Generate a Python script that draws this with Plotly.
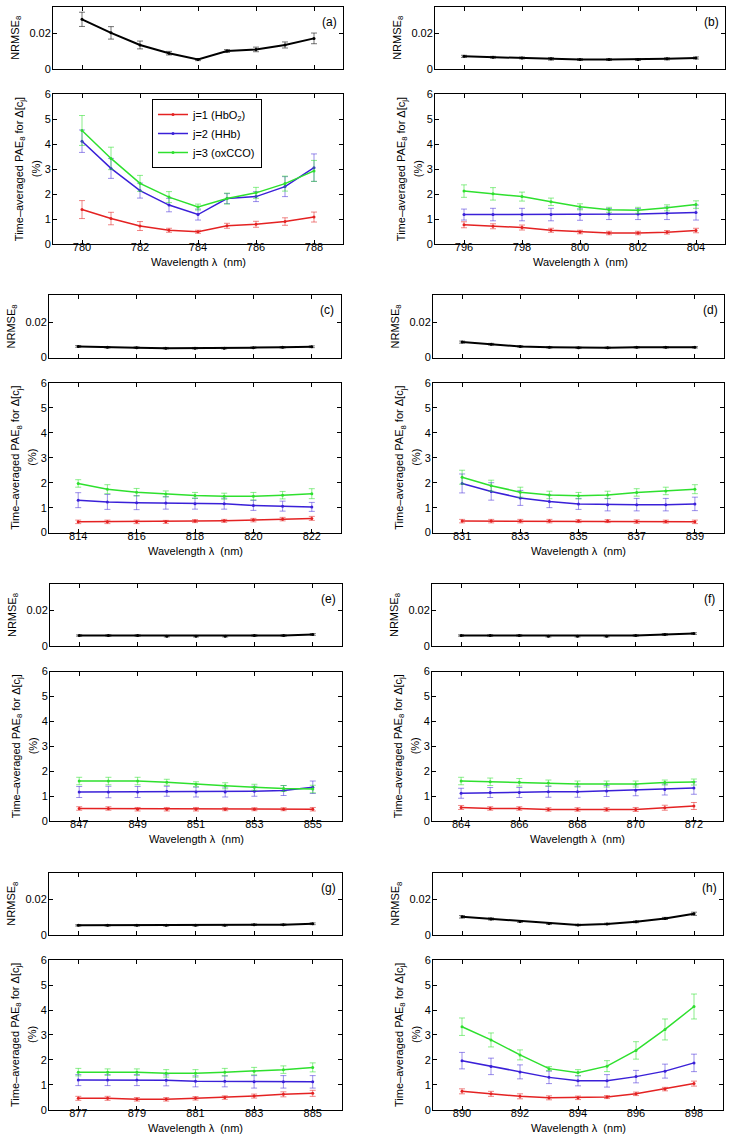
import plotly.graph_objects as go

# wavelengths (nm) for each panel
wl_a = [780, 781, 782, 783, 784, 785, 786, 787, 788]
wl_b = [796, 797, 798, 799, 800, 801, 802, 803, 804]
wl_c = [814, 815, 816, 817, 818, 819, 820, 821, 822]
wl_d = [831, 832, 833, 834, 835, 836, 837, 838, 839]
wl_e = [847, 848, 849, 850, 851, 852, 853, 854, 855]
wl_f = [864, 865, 866, 867, 868, 869, 870, 871, 872]
wl_g = [877, 878, 879, 880, 881, 882, 883, 884, 885]
wl_h = [890, 891, 892, 893, 894, 895, 896, 897, 898]

# NRMSE_8 (top plots)
nrmse_a = [0.0279, 0.0203, 0.0135, 0.0089, 0.0053, 0.0101, 0.0110, 0.0135, 0.0172]
nrmse_err_a = [0.0040, 0.0035, 0.0022, 0.0010, 0.0006, 0.0008, 0.0013, 0.0017, 0.0030]
nrmse_b = [0.0071, 0.0066, 0.0062, 0.0057, 0.0053, 0.0053, 0.0053, 0.0057, 0.0062]
nrmse_err_b = [0.0006, 0.0005, 0.0005, 0.0007, 0.0005, 0.0005, 0.0005, 0.0006, 0.0006]
nrmse_c = [0.0063, 0.0058, 0.0056, 0.0053, 0.0053, 0.0053, 0.0056, 0.0058, 0.0061]
nrmse_err_c = [0.0005, 0.0004, 0.0004, 0.0004, 0.0004, 0.0004, 0.0004, 0.0004, 0.0005]
nrmse_d = [0.0087, 0.0075, 0.0063, 0.0058, 0.0055, 0.0055, 0.0058, 0.0058, 0.0058]
nrmse_err_d = [0.0006, 0.0005, 0.0004, 0.0004, 0.0004, 0.0004, 0.0004, 0.0004, 0.0004]
nrmse_e = [0.0060, 0.0060, 0.0060, 0.0056, 0.0056, 0.0056, 0.0060, 0.0060, 0.0066]
nrmse_err_e = [0.0004, 0.0004, 0.0004, 0.0004, 0.0004, 0.0004, 0.0004, 0.0004, 0.0005]
nrmse_f = [0.0060, 0.0060, 0.0060, 0.0056, 0.0056, 0.0056, 0.0060, 0.0066, 0.0071]
nrmse_err_f = [0.0004, 0.0004, 0.0004, 0.0004, 0.0004, 0.0004, 0.0004, 0.0005, 0.0005]
nrmse_g = [0.0053, 0.0053, 0.0053, 0.0053, 0.0053, 0.0053, 0.0057, 0.0057, 0.0062]
nrmse_err_g = [0.0004, 0.0004, 0.0004, 0.0004, 0.0004, 0.0004, 0.0004, 0.0004, 0.0005]
nrmse_h = [0.0101, 0.0089, 0.0075, 0.0063, 0.0055, 0.0061, 0.0073, 0.0092, 0.0118]
nrmse_err_h = [0.0007, 0.0006, 0.0005, 0.0004, 0.0004, 0.0004, 0.0005, 0.0006, 0.0009]

# time-averaged PAE_8 (%), j=1 HbO2
hbo2_a = [1.38, 1.02, 0.72, 0.55, 0.49, 0.73, 0.79, 0.90, 1.08]
hbo2_err_a = [0.36, 0.25, 0.18, 0.08, 0.06, 0.10, 0.12, 0.15, 0.20]
hbo2_b = [0.77, 0.71, 0.66, 0.55, 0.48, 0.44, 0.44, 0.47, 0.54]
hbo2_err_b = [0.12, 0.10, 0.10, 0.08, 0.07, 0.07, 0.07, 0.07, 0.09]
hbo2_c = [0.43, 0.43, 0.43, 0.43, 0.46, 0.47, 0.50, 0.54, 0.57]
hbo2_err_c = [0.07, 0.07, 0.07, 0.06, 0.06, 0.06, 0.07, 0.07, 0.08]
hbo2_d = [0.46, 0.46, 0.46, 0.46, 0.46, 0.46, 0.44, 0.44, 0.43]
hbo2_err_d = [0.07, 0.07, 0.07, 0.07, 0.06, 0.06, 0.07, 0.06, 0.07]
hbo2_e = [0.51, 0.51, 0.48, 0.48, 0.48, 0.48, 0.48, 0.48, 0.48]
hbo2_err_e = [0.07, 0.07, 0.07, 0.07, 0.07, 0.06, 0.06, 0.06, 0.07]
hbo2_f = [0.55, 0.51, 0.51, 0.47, 0.47, 0.47, 0.47, 0.54, 0.61]
hbo2_err_f = [0.08, 0.07, 0.07, 0.07, 0.07, 0.07, 0.08, 0.10, 0.14]
hbo2_g = [0.46, 0.46, 0.42, 0.42, 0.46, 0.49, 0.55, 0.62, 0.66]
hbo2_err_g = [0.08, 0.08, 0.07, 0.07, 0.07, 0.07, 0.08, 0.10, 0.12]
hbo2_h = [0.74, 0.64, 0.54, 0.48, 0.48, 0.51, 0.64, 0.83, 1.05]
hbo2_err_h = [0.10, 0.10, 0.10, 0.08, 0.07, 0.06, 0.07, 0.07, 0.10]

# j=2 HHb
hhb_a = [4.12, 3.03, 2.14, 1.56, 1.18, 1.82, 1.90, 2.30, 3.06]
hhb_err_a = [0.45, 0.40, 0.30, 0.27, 0.22, 0.20, 0.20, 0.40, 0.55]
hhb_b = [1.18, 1.18, 1.18, 1.18, 1.18, 1.20, 1.20, 1.23, 1.26]
hhb_err_b = [0.22, 0.25, 0.25, 0.25, 0.23, 0.22, 0.22, 0.25, 0.30]
hhb_c = [1.30, 1.23, 1.20, 1.19, 1.16, 1.16, 1.09, 1.06, 1.03]
hhb_err_c = [0.30, 0.30, 0.28, 0.25, 0.22, 0.22, 0.20, 0.20, 0.18]
hhb_d = [1.97, 1.65, 1.39, 1.25, 1.15, 1.12, 1.12, 1.12, 1.15]
hhb_err_d = [0.38, 0.35, 0.30, 0.25, 0.22, 0.25, 0.25, 0.25, 0.27]
hhb_e = [1.17, 1.17, 1.17, 1.20, 1.17, 1.17, 1.20, 1.23, 1.36]
hhb_err_e = [0.22, 0.23, 0.22, 0.20, 0.20, 0.20, 0.20, 0.20, 0.25]
hhb_f = [1.12, 1.15, 1.15, 1.18, 1.18, 1.21, 1.24, 1.27, 1.33]
hhb_err_f = [0.20, 0.20, 0.20, 0.22, 0.22, 0.22, 0.22, 0.22, 0.25]
hhb_g = [1.19, 1.19, 1.19, 1.18, 1.14, 1.14, 1.12, 1.12, 1.12]
hhb_err_g = [0.22, 0.22, 0.22, 0.22, 0.22, 0.22, 0.25, 0.25, 0.25]
hhb_h = [1.97, 1.74, 1.52, 1.30, 1.16, 1.16, 1.33, 1.55, 1.88]
hhb_err_h = [0.33, 0.33, 0.28, 0.25, 0.20, 0.25, 0.25, 0.28, 0.35]

# j=3 oxCCO
cco_a = [4.55, 3.43, 2.43, 1.88, 1.48, 1.82, 2.05, 2.42, 2.93]
cco_err_a = [0.60, 0.45, 0.32, 0.22, 0.12, 0.22, 0.22, 0.30, 0.42]
cco_b = [2.12, 2.01, 1.90, 1.69, 1.49, 1.37, 1.35, 1.45, 1.58]
cco_err_b = [0.25, 0.25, 0.18, 0.15, 0.12, 0.10, 0.12, 0.12, 0.15]
cco_c = [1.97, 1.74, 1.62, 1.55, 1.49, 1.46, 1.46, 1.50, 1.56]
cco_err_c = [0.15, 0.18, 0.15, 0.12, 0.12, 0.12, 0.15, 0.15, 0.20]
cco_d = [2.22, 1.88, 1.62, 1.51, 1.48, 1.51, 1.61, 1.67, 1.74]
cco_err_d = [0.28, 0.22, 0.20, 0.15, 0.13, 0.15, 0.15, 0.15, 0.18]
cco_e = [1.61, 1.61, 1.61, 1.56, 1.48, 1.42, 1.36, 1.31, 1.29]
cco_err_e = [0.15, 0.15, 0.15, 0.12, 0.10, 0.12, 0.12, 0.12, 0.15]
cco_f = [1.61, 1.58, 1.56, 1.53, 1.49, 1.49, 1.49, 1.55, 1.57]
cco_err_f = [0.15, 0.15, 0.15, 0.12, 0.12, 0.12, 0.12, 0.10, 0.12]
cco_g = [1.51, 1.51, 1.51, 1.46, 1.46, 1.51, 1.55, 1.61, 1.70]
cco_err_g = [0.15, 0.13, 0.13, 0.15, 0.15, 0.15, 0.15, 0.15, 0.18]
cco_h = [3.33, 2.80, 2.20, 1.65, 1.49, 1.75, 2.38, 3.22, 4.14]
cco_err_h = [0.35, 0.28, 0.20, 0.08, 0.12, 0.22, 0.35, 0.42, 0.50]

panels = [
    ("a", wl_a, nrmse_a, nrmse_err_a, hbo2_a, hbo2_err_a, hhb_a, hhb_err_a, cco_a, cco_err_a),
    ("b", wl_b, nrmse_b, nrmse_err_b, hbo2_b, hbo2_err_b, hhb_b, hhb_err_b, cco_b, cco_err_b),
    ("c", wl_c, nrmse_c, nrmse_err_c, hbo2_c, hbo2_err_c, hhb_c, hhb_err_c, cco_c, cco_err_c),
    ("d", wl_d, nrmse_d, nrmse_err_d, hbo2_d, hbo2_err_d, hhb_d, hhb_err_d, cco_d, cco_err_d),
    ("e", wl_e, nrmse_e, nrmse_err_e, hbo2_e, hbo2_err_e, hhb_e, hhb_err_e, cco_e, cco_err_e),
    ("f", wl_f, nrmse_f, nrmse_err_f, hbo2_f, hbo2_err_f, hhb_f, hhb_err_f, cco_f, cco_err_f),
    ("g", wl_g, nrmse_g, nrmse_err_g, hbo2_g, hbo2_err_g, hhb_g, hhb_err_g, cco_g, cco_err_g),
    ("h", wl_h, nrmse_h, nrmse_err_h, hbo2_h, hbo2_err_h, hhb_h, hhb_err_h, cco_h, cco_err_h),
]

series_names = ["j=1 (HbO<sub>2</sub>)", "j=2 (HHb)", "j=3 (oxCCO)"]
series_colors = ["#e42222", "#3a20d8", "#2ee02e"]
errbar_colors = ["rgba(228,34,34,0.55)", "rgba(58,32,216,0.5)", "rgba(46,224,46,0.55)"]

W, H = 733, 1142
FONT = "Liberation Sans, Arial, Helvetica, sans-serif"

# pixel boxes (left, right) of each panel, vertical layout per row
box_x = {"a": (53, 343), "b": (435, 725), "c": (49, 341), "d": (433, 724),
         "e": (50, 342), "f": (432, 723), "g": (49, 342), "h": (433, 723)}
ROW_STEP = 288.6
TOP_Y = (6.7, 69.0)
BOT_Y = (94.3, 244.0)


def fx(p):
    return min(1, max(0, p / W))


def fy(p):
    return min(1, max(0, 1 - p / H))


fig = go.Figure()
layout = {}
annotations = []

axis_style = dict(showline=True, linecolor="black", linewidth=1, mirror="ticks",
                  ticks="inside", ticklen=4, tickcolor="black", tickwidth=1,
                  showgrid=False, zeroline=False, automargin=False,
                  tickfont=dict(size=11, color="black", family=FONT))

for p, (lab, wl, nr, nr_err, s1, e1, s2, e2, s3, e3) in enumerate(panels):
    row = p // 2
    left, right = box_x[lab]
    off = row * ROW_STEP
    xr = [wl[0] - 1, wl[-1] + 1]
    ticks = wl[::2]

    it = 2 * p + 1
    ib = 2 * p + 2
    kt = "" if it == 1 else str(it)
    kb = str(ib)

    layout["xaxis" + kt] = dict(axis_style, domain=[fx(left), fx(right)], range=xr,
                                tickvals=ticks, showticklabels=False, anchor="y" + kt)
    layout["yaxis" + kt] = dict(axis_style, domain=[fy(TOP_Y[1] + off), fy(TOP_Y[0] + off)],
                                range=[0, 0.035], tickvals=[0, 0.02], ticktext=["0", "0.02"],
                                anchor="x" + kt, ticklabelstandoff=-1)
    layout["xaxis" + kb] = dict(axis_style, domain=[fx(left), fx(right)], range=xr,
                                tickvals=ticks, anchor="y" + kb, ticklabelstandoff=-7)
    layout["yaxis" + kb] = dict(axis_style, domain=[fy(BOT_Y[1] + off), fy(BOT_Y[0] + off)],
                                range=[0, 6], tickvals=[0, 1, 2, 3, 4, 5, 6], anchor="x" + kb,
                                ticklabelstandoff=-1)

    fig.add_trace(go.Scatter(
        x=wl, y=nr, mode="lines+markers", xaxis="x" + kt, yaxis="y" + kt,
        line=dict(color="black", width=2), marker=dict(size=3, color="black"),
        error_y=dict(type="data", array=nr_err, color="rgba(0,0,0,0.55)", thickness=1, width=3),
        showlegend=False))

    for k, (vals, errs) in enumerate([(s1, e1), (s2, e2), (s3, e3)]):
        fig.add_trace(go.Scatter(
            x=wl, y=vals, mode="lines+markers", xaxis="x" + kb, yaxis="y" + kb,
            name=series_names[k], line=dict(color=series_colors[k], width=1.5),
            marker=dict(size=3, color=series_colors[k]),
            error_y=dict(type="data", array=errs, color=errbar_colors[k], thickness=1, width=3),
            showlegend=(p == 0)))

    # axis labels and panel letter
    txt_font = dict(size=11, color="black", family=FONT)
    annotations.append(dict(text="NRMSE<sub>8</sub>", textangle=-90,
                            x=fx(left - 37), y=fy((TOP_Y[0] + TOP_Y[1]) / 2 + off),
                            xref="paper", yref="paper", showarrow=False,
                            xanchor="center", yanchor="middle", font=txt_font))
    annotations.append(dict(text="Time\u2013averaged PAE<sub>8</sub> for \u0394[c<sub>j</sub>]", textangle=-90,
                            x=fx(left - 33), y=fy((BOT_Y[0] + BOT_Y[1]) / 2 + off),
                            xref="paper", yref="paper", showarrow=False,
                            xanchor="center", yanchor="middle", font=txt_font))
    annotations.append(dict(text="(%)", textangle=-90,
                            x=fx(left - 17), y=fy((BOT_Y[0] + BOT_Y[1]) / 2 + off),
                            xref="paper", yref="paper", showarrow=False,
                            xanchor="center", yanchor="middle", font=txt_font))
    annotations.append(dict(text="Wavelength \u03bb  (nm)",
                            x=fx((left + right) / 2), y=fy(BOT_Y[1] + off + 18),
                            xref="paper", yref="paper", showarrow=False,
                            xanchor="center", yanchor="middle", font=txt_font))
    annotations.append(dict(text="(%s)" % lab,
                            x=fx(right - 14), y=fy(TOP_Y[0] + off + 15),
                            xref="paper", yref="paper", showarrow=False,
                            xanchor="center", yanchor="middle", font=dict(size=12, color="black", family=FONT)))

fig.update_layout(
    width=W, height=H,
    margin=dict(l=0, r=0, t=0, b=0, autoexpand=False),
    paper_bgcolor="white", plot_bgcolor="white",
    font=dict(family=FONT, size=11, color="black"),
    annotations=annotations,
    legend=dict(x=fx(152), y=fy(99), xanchor="left", yanchor="top",
                bordercolor="black", borderwidth=1, bgcolor="white",
                font=dict(size=11, color="black", family=FONT),
                tracegroupgap=0, itemwidth=30),
    **layout,
)

# drop the default body margin so the figure sits at the page's top-left corner
fig.write_html("out.html", config={"displayModeBar": False},
               post_script="document.body.style.margin='0';")
